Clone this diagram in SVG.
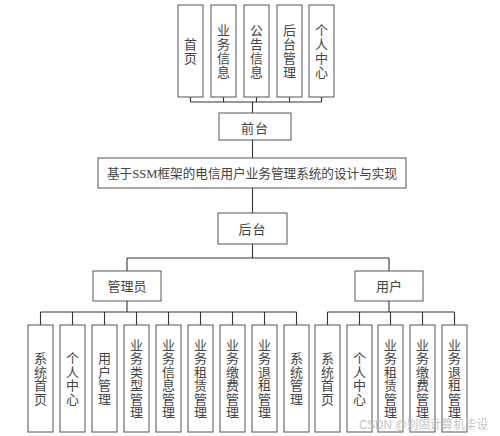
<svg xmlns="http://www.w3.org/2000/svg" width="500" height="436" viewBox="0 0 500 436">
<style>
.box{fill:#fff;stroke:#555;stroke-width:1}
.t{font-family:"Liberation Serif","Noto Sans CJK SC",serif;font-size:13px;fill:#444}
.v{text-anchor:middle;dominant-baseline:central}
.c{fill:none;stroke:#333;stroke-width:1.1}
.wm{font-family:"Liberation Sans","Noto Sans CJK SC",sans-serif;font-size:12.5px;fill:#c4c4c4}
</style>
<rect width="500" height="436" fill="#fff"/>
<g id="connectors" class="c">
<path d="M190.5 97V102M223.5 97V102M256.5 97V102M289.5 97V102M321.5 97V102M190.5 102H321.5M252.5 102V113"/>
<path d="M252.5 140V158M252.5 188V213M252.5 244V258M127 258H389M127 258V271M389 258V271"/>
<path d="M127 301V312M40.5 312H296.5M40.5 312V325M72.5 312V325M104.5 312V325M136.5 312V325M168.5 312V325M200.5 312V325M232.5 312V325M264.5 312V325M296.5 312V325"/>
<path d="M389 301V312M327.5 312H454.5M327.5 312V325M359.5 312V325M390.5 312V325M422.5 312V325M454.5 312V325"/>
</g>
<g id="top-home"><rect class="box" x="178" y="5" width="25" height="92"/><text class="t v"><tspan x="190.5" y="44">首</tspan><tspan x="190.5" y="58">页</tspan></text></g>
<g id="top-business"><rect class="box" x="211" y="5" width="25" height="92"/><text class="t v"><tspan x="223.5" y="30">业</tspan><tspan x="223.5" y="44">务</tspan><tspan x="223.5" y="58">信</tspan><tspan x="223.5" y="72">息</tspan></text></g>
<g id="top-notice"><rect class="box" x="244" y="5" width="25" height="92"/><text class="t v"><tspan x="256.5" y="30">公</tspan><tspan x="256.5" y="44">告</tspan><tspan x="256.5" y="58">信</tspan><tspan x="256.5" y="72">息</tspan></text></g>
<g id="top-admin"><rect class="box" x="277" y="5" width="25" height="92"/><text class="t v"><tspan x="289.5" y="30">后</tspan><tspan x="289.5" y="44">台</tspan><tspan x="289.5" y="58">管</tspan><tspan x="289.5" y="72">理</tspan></text></g>
<g id="top-personal"><rect class="box" x="309" y="5" width="25" height="92"/><text class="t v"><tspan x="321.5" y="30">个</tspan><tspan x="321.5" y="44">人</tspan><tspan x="321.5" y="58">中</tspan><tspan x="321.5" y="72">心</tspan></text></g>
<g id="frontend"><rect class="box" x="219" y="113" width="72" height="27"/><text class="t v" x="255" y="128" letter-spacing="1">前台</text></g>
<g id="title"><rect class="box" x="98" y="158" width="308" height="30"/><text class="t v" x="252" y="173" textLength="290" lengthAdjust="spacingAndGlyphs">基于SSM框架的电信用户业务管理系统的设计与实现</text></g>
<g id="backend"><rect class="box" x="218" y="213" width="69" height="31"/><text class="t v" x="252.5" y="229" letter-spacing="1">后台</text></g>
<g id="admin"><rect class="box" x="93" y="271" width="68" height="30"/><text class="t v" x="127" y="286">管理员</text></g>
<g id="user"><rect class="box" x="355" y="271" width="68" height="30"/><text class="t v" x="389" y="286">用户</text></g>
<g id="a1"><rect class="box" x="28" y="325" width="25" height="107"/><text class="t v"><tspan x="40.5" y="358">系</tspan><tspan x="40.5" y="371.5">统</tspan><tspan x="40.5" y="385">首</tspan><tspan x="40.5" y="398.5">页</tspan></text></g>
<g id="a2"><rect class="box" x="60" y="325" width="25" height="107"/><text class="t v"><tspan x="72.5" y="358">个</tspan><tspan x="72.5" y="371.5">人</tspan><tspan x="72.5" y="385">中</tspan><tspan x="72.5" y="398.5">心</tspan></text></g>
<g id="a3"><rect class="box" x="92" y="325" width="25" height="107"/><text class="t v"><tspan x="104.5" y="358">用</tspan><tspan x="104.5" y="371.5">户</tspan><tspan x="104.5" y="385">管</tspan><tspan x="104.5" y="398.5">理</tspan></text></g>
<g id="a4"><rect class="box" x="124" y="325" width="25" height="107"/><text class="t v"><tspan x="136.5" y="344.5">业</tspan><tspan x="136.5" y="358">务</tspan><tspan x="136.5" y="371.5">类</tspan><tspan x="136.5" y="385">型</tspan><tspan x="136.5" y="398.5">管</tspan><tspan x="136.5" y="412">理</tspan></text></g>
<g id="a5"><rect class="box" x="156" y="325" width="25" height="107"/><text class="t v"><tspan x="168.5" y="344.5">业</tspan><tspan x="168.5" y="358">务</tspan><tspan x="168.5" y="371.5">信</tspan><tspan x="168.5" y="385">息</tspan><tspan x="168.5" y="398.5">管</tspan><tspan x="168.5" y="412">理</tspan></text></g>
<g id="a6"><rect class="box" x="188" y="325" width="25" height="107"/><text class="t v"><tspan x="200.5" y="344.5">业</tspan><tspan x="200.5" y="358">务</tspan><tspan x="200.5" y="371.5">租</tspan><tspan x="200.5" y="385">赁</tspan><tspan x="200.5" y="398.5">管</tspan><tspan x="200.5" y="412">理</tspan></text></g>
<g id="a7"><rect class="box" x="220" y="325" width="25" height="107"/><text class="t v"><tspan x="232.5" y="344.5">业</tspan><tspan x="232.5" y="358">务</tspan><tspan x="232.5" y="371.5">缴</tspan><tspan x="232.5" y="385">费</tspan><tspan x="232.5" y="398.5">管</tspan><tspan x="232.5" y="412">理</tspan></text></g>
<g id="a8"><rect class="box" x="252" y="325" width="25" height="107"/><text class="t v"><tspan x="264.5" y="344.5">业</tspan><tspan x="264.5" y="358">务</tspan><tspan x="264.5" y="371.5">退</tspan><tspan x="264.5" y="385">租</tspan><tspan x="264.5" y="398.5">管</tspan><tspan x="264.5" y="412">理</tspan></text></g>
<g id="a9"><rect class="box" x="284" y="325" width="25" height="107"/><text class="t v"><tspan x="296.5" y="358">系</tspan><tspan x="296.5" y="371.5">统</tspan><tspan x="296.5" y="385">管</tspan><tspan x="296.5" y="398.5">理</tspan></text></g>
<g id="u1"><rect class="box" x="315" y="325" width="25" height="107"/><text class="t v"><tspan x="327.5" y="358">系</tspan><tspan x="327.5" y="371.5">统</tspan><tspan x="327.5" y="385">首</tspan><tspan x="327.5" y="398.5">页</tspan></text></g>
<g id="u2"><rect class="box" x="347" y="325" width="25" height="107"/><text class="t v"><tspan x="359.5" y="358">个</tspan><tspan x="359.5" y="371.5">人</tspan><tspan x="359.5" y="385">中</tspan><tspan x="359.5" y="398.5">心</tspan></text></g>
<g id="u3"><rect class="box" x="378" y="325" width="25" height="107"/><text class="t v"><tspan x="390.5" y="344.5">业</tspan><tspan x="390.5" y="358">务</tspan><tspan x="390.5" y="371.5">租</tspan><tspan x="390.5" y="385">赁</tspan><tspan x="390.5" y="398.5">管</tspan><tspan x="390.5" y="412">理</tspan></text></g>
<g id="u4"><rect class="box" x="410" y="325" width="25" height="107"/><text class="t v"><tspan x="422.5" y="344.5">业</tspan><tspan x="422.5" y="358">务</tspan><tspan x="422.5" y="371.5">缴</tspan><tspan x="422.5" y="385">费</tspan><tspan x="422.5" y="398.5">管</tspan><tspan x="422.5" y="412">理</tspan></text></g>
<g id="u5"><rect class="box" x="442" y="325" width="25" height="107"/><text class="t v"><tspan x="454.5" y="344.5">业</tspan><tspan x="454.5" y="358">务</tspan><tspan x="454.5" y="371.5">退</tspan><tspan x="454.5" y="385">租</tspan><tspan x="454.5" y="398.5">管</tspan><tspan x="454.5" y="412">理</tspan></text></g>
<text class="wm" x="359" y="429" textLength="129" lengthAdjust="spacingAndGlyphs">CSDN @别固计算机毕设</text>
</svg>
